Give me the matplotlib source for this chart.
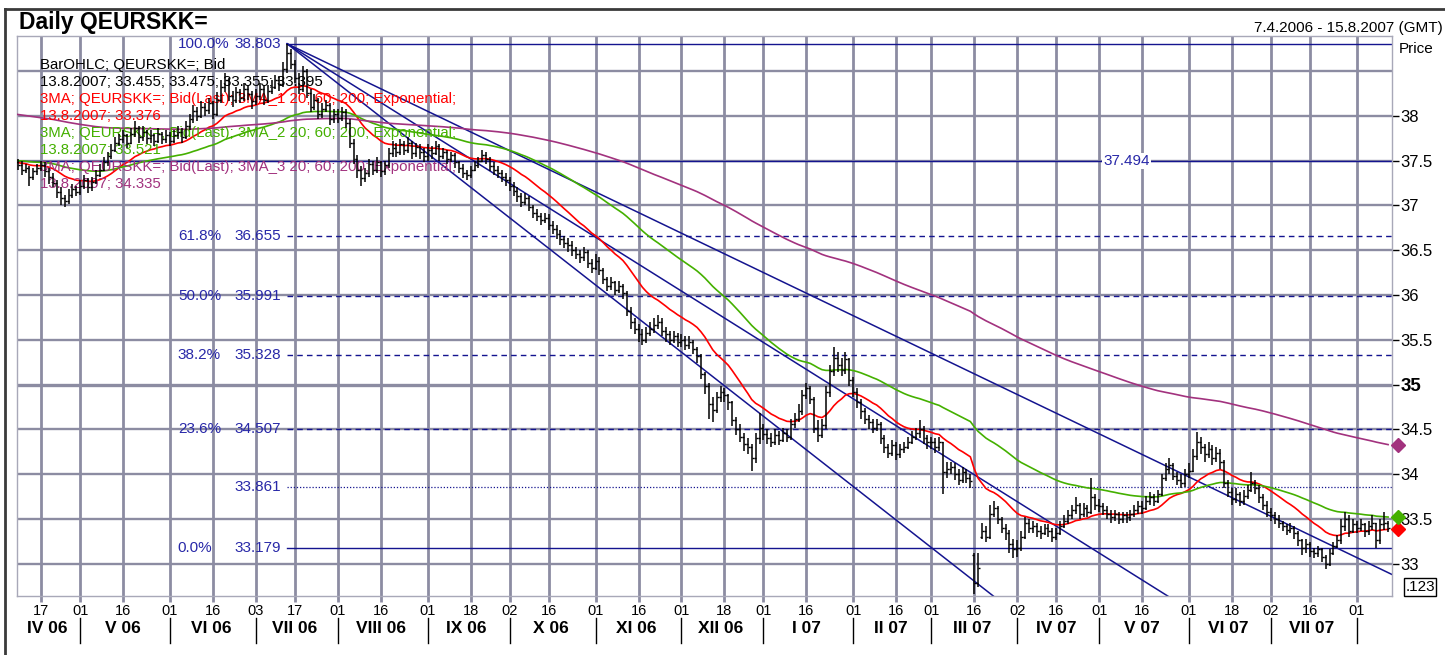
import matplotlib
matplotlib.use('Agg')
import matplotlib.pyplot as plt
import matplotlib.transforms as mtransforms
from matplotlib.lines import Line2D
import numpy as np
import pandas as pd

plt.rcParams['font.family'] = ['Liberation Sans', 'DejaVu Sans']

# ---- data: daily bid bars 7.4.2006 - 13.8.2007 (one row per month) ----
dates = pd.bdate_range('2006-04-07', '2007-08-13')

close = [
    37.45, 37.40, 37.42, 37.32, 37.38, 37.42, 37.45, 37.38, 37.32, 37.25, 37.15, 37.08, 37.05, 37.12, 37.18, 37.15,
    37.22, 37.28, 37.20, 37.26, 37.34, 37.40, 37.48, 37.55, 37.62, 37.70, 37.74, 37.78, 37.70, 37.80, 37.86, 37.76, 37.82, 37.75, 37.78, 37.72, 37.80, 37.74, 37.78,
    37.72, 37.78, 37.82, 37.76, 37.88, 37.96, 38.05, 38.00, 38.10, 38.06, 38.14, 38.02, 38.18, 38.32, 38.40, 38.22, 38.18, 38.26, 38.20, 38.30, 38.24, 38.16,
    38.22, 38.30, 38.18, 38.28, 38.32, 38.40, 38.35, 38.52, 38.70, 38.58, 38.42, 38.30, 38.50, 38.25, 38.10, 38.18, 38.02, 38.08, 38.12, 37.96, 38.02,
    37.98, 38.04, 37.92, 37.70, 37.52, 37.40, 37.30, 37.36, 37.46, 37.40, 37.48, 37.38, 37.45, 37.58, 37.64, 37.60, 37.68, 37.62, 37.70, 37.58, 37.65, 37.60, 37.55,
    37.62, 37.58, 37.66, 37.55, 37.60, 37.52, 37.56, 37.48, 37.42, 37.36, 37.34, 37.40, 37.45, 37.50, 37.56, 37.52, 37.44, 37.40, 37.36, 37.32, 37.28,
    37.22, 37.16, 37.10, 37.04, 37.08, 36.98, 36.92, 36.88, 36.84, 36.86, 36.78, 36.74, 36.68, 36.62, 36.58, 36.56, 36.50, 36.46, 36.42, 36.48, 36.36, 36.30,
    36.38, 36.28, 36.18, 36.10, 36.14, 36.06, 36.10, 36.02, 35.82, 35.70, 35.62, 35.56, 35.50, 35.58, 35.62, 35.66, 35.70, 35.60, 35.56, 35.50, 35.54, 35.48,
    35.50, 35.44, 35.48, 35.40, 35.32, 35.12, 34.98, 34.78, 34.72, 34.86, 34.92, 34.88, 34.80, 34.60, 34.50, 34.42, 34.34, 34.30, 34.18, 34.40, 34.52,
    34.45, 34.40, 34.36, 34.44, 34.38, 34.46, 34.42, 34.56, 34.62, 34.70, 34.88, 34.96, 34.84, 34.52, 34.44, 34.55, 34.92, 35.15, 35.30, 35.22, 35.16, 35.28, 35.05,
    34.92, 34.80, 34.70, 34.62, 34.58, 34.52, 34.56, 34.40, 34.30, 34.24, 34.32, 34.22, 34.28, 34.30, 34.36, 34.42, 34.46, 34.50, 34.40, 34.36,
    34.36, 34.30, 34.36, 34.02, 34.06, 34.08, 34.00, 33.94, 34.02, 33.96, 33.92, 32.78, 32.95, 33.36, 33.30, 33.56, 33.62, 33.50, 33.40, 33.34, 33.22, 33.16,
    33.18, 33.30, 33.45, 33.40, 33.42, 33.36, 33.34, 33.40, 33.36, 33.30, 33.34, 33.42, 33.48, 33.54, 33.60, 33.66, 33.56, 33.62, 33.58, 33.74, 33.66,
    33.64, 33.60, 33.56, 33.52, 33.56, 33.50, 33.54, 33.52, 33.56, 33.60, 33.64, 33.62, 33.70, 33.74, 33.70, 33.78, 33.96, 34.06, 34.10, 33.98, 33.94, 33.90, 34.00,
    34.04, 34.20, 34.36, 34.30, 34.22, 34.28, 34.18, 34.24, 34.14, 33.90, 33.80, 33.72, 33.78, 33.70, 33.76, 33.82, 33.90, 33.84, 33.74, 33.66, 33.58,
    33.54, 33.50, 33.46, 33.42, 33.38, 33.40, 33.34, 33.26, 33.18, 33.22, 33.14, 33.12, 33.16, 33.08, 33.00, 33.12, 33.20, 33.26, 33.42, 33.50, 33.36, 33.44,
    33.40, 33.44, 33.36, 33.42, 33.46, 33.26, 33.44, 33.455, 33.395,
]

high = [
    37.52, 37.50, 37.46, 37.44, 37.42, 37.46, 37.50, 37.48, 37.42, 37.36, 37.28, 37.20, 37.12, 37.18, 37.24, 37.22,
    37.28, 37.34, 37.30, 37.32, 37.40, 37.46, 37.54, 37.60, 37.68, 37.76, 37.80, 37.84, 37.80, 37.86, 37.94, 37.88, 37.88, 37.84, 37.84, 37.80, 37.86, 37.82, 37.84,
    37.82, 37.84, 37.88, 37.86, 37.94, 38.02, 38.12, 38.10, 38.16, 38.14, 38.20, 38.16, 38.26, 38.40, 38.48, 38.42, 38.28, 38.32, 38.30, 38.36, 38.34, 38.28,
    38.30, 38.36, 38.34, 38.34, 38.40, 38.46, 38.44, 38.60, 38.803, 38.74, 38.62, 38.48, 38.56, 38.52, 38.30, 38.24, 38.20, 38.14, 38.18, 38.14, 38.08,
    38.08, 38.10, 38.08, 37.96, 37.74, 37.56, 37.44, 37.42, 37.52, 37.50, 37.54, 37.50, 37.50, 37.64, 37.72, 37.70, 37.74, 37.72, 37.76, 37.72, 37.70, 37.68, 37.64,
    37.68, 37.66, 37.72, 37.68, 37.64, 37.62, 37.60, 37.58, 37.50, 37.46, 37.40, 37.44, 37.50, 37.54, 37.62, 37.60, 37.54, 37.48, 37.44, 37.40, 37.36,
    37.32, 37.26, 37.20, 37.14, 37.14, 37.10, 37.00, 36.96, 36.92, 36.92, 36.90, 36.82, 36.78, 36.72, 36.66, 36.64, 36.60, 36.54, 36.50, 36.54, 36.50, 36.40,
    36.46, 36.42, 36.30, 36.20, 36.20, 36.16, 36.16, 36.12, 36.04, 35.86, 35.74, 35.68, 35.62, 35.64, 35.70, 35.74, 35.78, 35.74, 35.64, 35.60, 35.60, 35.58,
    35.56, 35.54, 35.54, 35.50, 35.42, 35.34, 35.14, 35.02, 34.86, 34.92, 34.98, 34.96, 34.90, 34.82, 34.64, 34.56, 34.46, 34.40, 34.34, 34.46, 34.68,
    34.56, 34.50, 34.46, 34.50, 34.48, 34.52, 34.50, 34.62, 34.68, 34.78, 34.94, 35.02, 34.98, 34.86, 34.60, 34.62, 34.98, 35.22, 35.42, 35.36, 35.30, 35.36, 35.30,
    35.08, 34.96, 34.84, 34.74, 34.66, 34.62, 34.62, 34.58, 34.44, 34.34, 34.38, 34.36, 34.34, 34.36, 34.42, 34.48, 34.52, 34.60, 34.54, 34.44,
    34.42, 34.40, 34.42, 34.36, 34.14, 34.14, 34.12, 34.06, 34.08, 34.06, 34.00, 33.12, 33.12, 33.46, 33.42, 33.66, 33.70, 33.64, 33.52, 33.44, 33.38, 33.28,
    33.26, 33.36, 33.52, 33.50, 33.48, 33.46, 33.42, 33.44, 33.44, 33.40, 33.40, 33.48, 33.54, 33.60, 33.66, 33.74, 33.68, 33.68, 33.66, 33.96, 33.78,
    33.72, 33.68, 33.64, 33.60, 33.60, 33.58, 33.58, 33.58, 33.60, 33.66, 33.70, 33.70, 33.76, 33.80, 33.78, 33.82, 34.00, 34.12, 34.18, 34.12, 34.02, 34.00, 34.06,
    34.12, 34.28, 34.47, 34.42, 34.34, 34.36, 34.32, 34.30, 34.28, 34.16, 33.94, 33.84, 33.84, 33.80, 33.82, 33.88, 34.02, 33.94, 33.88, 33.78, 33.70,
    33.62, 33.58, 33.54, 33.48, 33.44, 33.46, 33.42, 33.36, 33.28, 33.28, 33.24, 33.18, 33.20, 33.18, 33.10, 33.16, 33.24, 33.32, 33.50, 33.58, 33.54, 33.50,
    33.48, 33.50, 33.46, 33.48, 33.54, 33.46, 33.50, 33.58, 33.475,
]

low = [
    37.40, 37.34, 37.36, 37.22, 37.28, 37.34, 37.38, 37.32, 37.24, 37.20, 37.08, 37.00, 36.98, 37.02, 37.08, 37.10,
    37.12, 37.18, 37.14, 37.16, 37.24, 37.32, 37.38, 37.44, 37.52, 37.60, 37.66, 37.70, 37.64, 37.68, 37.76, 37.70, 37.72, 37.68, 37.70, 37.66, 37.70, 37.68, 37.70,
    37.66, 37.70, 37.74, 37.70, 37.74, 37.84, 37.92, 37.94, 37.98, 38.00, 38.02, 37.96, 38.00, 38.14, 38.26, 38.16, 38.10, 38.14, 38.14, 38.16, 38.18, 38.08,
    38.12, 38.18, 38.12, 38.14, 38.24, 38.30, 38.28, 38.32, 38.48, 38.52, 38.36, 38.24, 38.26, 38.20, 38.04, 38.06, 37.96, 37.98, 38.04, 37.90, 37.92,
    37.92, 37.94, 37.86, 37.64, 37.46, 37.30, 37.22, 37.26, 37.32, 37.34, 37.36, 37.32, 37.34, 37.42, 37.54, 37.54, 37.56, 37.56, 37.58, 37.52, 37.54, 37.52, 37.48,
    37.50, 37.52, 37.56, 37.50, 37.52, 37.46, 37.48, 37.42, 37.36, 37.30, 37.28, 37.30, 37.38, 37.42, 37.48, 37.46, 37.38, 37.34, 37.30, 37.26, 37.22,
    37.16, 37.10, 37.04, 36.98, 37.00, 36.94, 36.86, 36.82, 36.78, 36.80, 36.72, 36.68, 36.62, 36.56, 36.52, 36.48, 36.44, 36.40, 36.36, 36.38, 36.30, 36.24,
    36.28, 36.22, 36.12, 36.04, 36.06, 36.00, 36.02, 35.96, 35.76, 35.62, 35.56, 35.48, 35.44, 35.46, 35.54, 35.58, 35.62, 35.54, 35.48, 35.44, 35.46, 35.42,
    35.42, 35.38, 35.40, 35.34, 35.24, 35.06, 34.90, 34.62, 34.58, 34.68, 34.80, 34.80, 34.72, 34.54, 34.44, 34.36, 34.26, 34.22, 34.04, 34.12, 34.34,
    34.38, 34.34, 34.30, 34.32, 34.32, 34.36, 34.36, 34.38, 34.52, 34.58, 34.66, 34.84, 34.78, 34.46, 34.36, 34.40, 34.50, 34.86, 35.10, 35.14, 35.10, 35.12, 34.98,
    34.86, 34.74, 34.62, 34.56, 34.50, 34.46, 34.48, 34.34, 34.24, 34.18, 34.20, 34.16, 34.18, 34.24, 34.28, 34.34, 34.38, 34.40, 34.34, 34.28,
    34.28, 34.24, 34.26, 33.78, 33.96, 34.00, 33.94, 33.88, 33.90, 33.90, 33.84, 32.66, 32.74, 33.28, 33.24, 33.28, 33.52, 33.44, 33.34, 33.26, 33.12, 33.06,
    33.08, 33.14, 33.28, 33.34, 33.34, 33.30, 33.28, 33.32, 33.30, 33.24, 33.26, 33.32, 33.40, 33.44, 33.50, 33.56, 33.50, 33.52, 33.52, 33.56, 33.60,
    33.58, 33.54, 33.50, 33.46, 33.48, 33.44, 33.46, 33.46, 33.48, 33.52, 33.56, 33.56, 33.60, 33.66, 33.64, 33.68, 33.76, 33.92, 34.00, 33.94, 33.88, 33.84, 33.86,
    33.96, 34.02, 34.16, 34.22, 34.14, 34.18, 34.10, 34.14, 34.06, 33.84, 33.74, 33.66, 33.68, 33.64, 33.66, 33.72, 33.80, 33.78, 33.68, 33.60, 33.52,
    33.48, 33.44, 33.40, 33.36, 33.32, 33.34, 33.28, 33.20, 33.10, 33.12, 33.08, 33.06, 33.08, 33.02, 32.94, 32.98, 33.10, 33.18, 33.22, 33.36, 33.30, 33.34,
    33.34, 33.36, 33.30, 33.32, 33.38, 33.18, 33.22, 33.38, 33.355,
]

first_open = 37.48
gap_open = {245: 33.10, 247: 33.30}   # bars that opened away from the prior close

# EMA levels carried in from before the window (20 / 60 / 200)
ema_spans = [20, 60, 200]
ema_start = [37.48, 37.50, 38.02]
ema_colors = ['#ff0000', '#44b000', '#a2327e']

# Fibonacci retracement from the July 2006 high
fib_anchor = 69
fib_pct = ['100.0%', '61.8%', '50.0%', '38.2%', '23.6%', '0.0%']
fib_val = [38.803, 36.655, 35.991, 35.328, 34.507, 33.179]
fib_style = ['-', '--', '--', '--', '--', '-']
extra_level = 33.861
flat_level = 37.494
trend_end = [32.88, 31.07, 29.16]   # fan lines, price reached at the right edge

legend_lines = [
    ('BarOHLC; QEURSKK=; Bid', 'black'),
    ('13.8.2007; 33.455; 33.475; 33.355; 33.395', 'black'),
    ('3MA; QEURSKK=; Bid(Last); 3MA_1 20; 60; 200; Exponential;', ema_colors[0]),
    ('13.8.2007; 33.376', ema_colors[0]),
    ('3MA; QEURSKK=; Bid(Last); 3MA_2 20; 60; 200; Exponential;', ema_colors[1]),
    ('13.8.2007; 33.521', ema_colors[1]),
    ('3MA; QEURSKK=; Bid(Last); 3MA_3 20; 60; 200; Exponential;', ema_colors[2]),
    ('13.8.2007; 34.335', ema_colors[2]),
]
roman = ['I', 'II', 'III', 'IV', 'V', 'VI', 'VII', 'VIII', 'IX', 'X', 'XI', 'XII']

assert len(close) == len(dates) == len(high) == len(low), (len(dates), len(close), len(high), len(low))

W, H = 1445, 655
grid_c = '#8c8ca2'
navy = '#14148f'
fib_txt = '#2828a8'

fig = plt.figure(figsize=(W / 100, H / 100), dpi=100)
ax = fig.add_axes([17 / W, 1 - 596 / H, 1375 / W, 560 / H])

x = np.arange(len(close))
x_right = 352
ax.set_xlim(-0.2, x_right)
ax.set_ylim(32.64, 38.89)

# grid
tick_idx = []
for m in pd.date_range('2006-04-01', '2007-08-01', freq='MS'):
    for d in (1, 16):
        t = m + pd.Timedelta(days=d - 1)
        k = dates.searchsorted(t)
        if t >= dates[0] and k < len(dates):
            tick_idx.append(k)
for k in tick_idx:
    ax.axvline(k, color=grid_c, lw=2.0, zorder=1)
for lvl in np.arange(33.0, 38.51, 0.5):
    ax.axhline(lvl, color=grid_c, lw=2.4 if lvl == 35 else 1.7, zorder=1)

# moving averages
c = np.array(close)
for span, seed, col in zip(ema_spans, ema_start, ema_colors):
    e = pd.Series([seed] + close).ewm(span=span, adjust=False).mean().to_numpy()[1:]
    ax.plot(x, e, color=col, lw=1.2, zorder=3)
    ax.plot([x_right + 1.5], [e[-1]], marker='D', ms=7.5, color=col, clip_on=False, zorder=6)

# fibonacci levels and lines
for pct, val, ls in zip(fib_pct, fib_val, fib_style):
    ax.plot([fib_anchor, x_right], [val, val], color=navy, lw=1.0, ls=ls,
            dashes=(4, 3) if ls == '--' else (None, None), zorder=2)
    ax.text(41, val, pct, color=fib_txt, fontsize=11, va='center', ha='left', zorder=4)
    ax.text(55.5, val, '%.3f' % val, color=fib_txt, fontsize=11, va='center', ha='left', zorder=4)
ax.plot([fib_anchor, x_right], [extra_level, extra_level], color=navy, lw=0.9, ls=(0, (1, 1.5)), zorder=2)
ax.text(55.5, extra_level, '%.3f' % extra_level, color=fib_txt, fontsize=11, va='center', ha='left', zorder=4)
ax.axhline(flat_level, color=navy, lw=1.0, zorder=2)
ax.text(284, flat_level, '%.3f' % flat_level, color=fib_txt, fontsize=11, va='center', ha='center',
        zorder=4, bbox=dict(facecolor='white', edgecolor='none', pad=1))
for end in trend_end:
    ax.plot([fib_anchor, x_right], [fib_val[0], end], color=navy, lw=1.1, zorder=2)

# OHLC bars
opens = np.r_[first_open, c[:-1]]
for k, v in gap_open.items():
    opens[k] = v
ax.vlines(x, low, high, color='black', lw=1.1, zorder=5)
ax.hlines(opens, x - 0.5, x, color='black', lw=1.0, zorder=5)
ax.hlines(c, x, x + 0.5, color='black', lw=1.0, zorder=5)

# legend text block
for i, (txt, col) in enumerate(legend_lines):
    ax.text(0.0167, 0.948 - i * 0.0302, txt, transform=ax.transAxes, color=col,
            fontsize=10.8, va='center', ha='left', zorder=4)

# axes styling
for s in ax.spines.values():
    s.set_color('#a8a8b8')
    s.set_linewidth(1.0)
ax.yaxis.tick_right()
yt = np.arange(33.0, 38.01, 0.5)
ax.set_yticks(yt)
ax.set_yticklabels(['%g' % v for v in yt], fontsize=12)
for lab in ax.get_yticklabels():
    if lab.get_text() == '35':
        lab.set_fontweight('bold')
        lab.set_fontsize(13.5)
ax.tick_params(axis='y', length=5, width=1, color='black', pad=1)
ax.set_xticks(tick_idx)
ax.set_xticklabels([dates[k].strftime('%d') for k in tick_idx], fontsize=10.5)
ax.tick_params(axis='x', length=4, width=2.0, color=grid_c, pad=2)

# month labels and separators
blend = mtransforms.blended_transform_factory(ax.transData, ax.transAxes)
months = pd.date_range('2006-04-01', '2007-08-01', freq='MS')
for m, nxt in zip(months[:-1], months[1:]):
    s = dates.searchsorted(max(m, dates[0]))
    e = dates.searchsorted(nxt) - 1
    ax.text((s + e) / 2, -0.058, '%s %s' % (roman[m.month - 1], m.strftime('%y')),
            transform=blend, fontsize=12.5, fontweight='bold', ha='center', va='center')
    k = dates.searchsorted(nxt)
    ax.plot([k, k], [-0.040, -0.084], transform=blend, color='black', lw=1.0, clip_on=False)

# header texts and outer frame
fig.text(19 / W, 1 - 22 / H, 'Daily QEURSKK=', fontsize=16.5, fontweight='bold', va='center')
fig.text(1443 / W, 1 - 28 / H, '7.4.2006 - 15.8.2007 (GMT)', fontsize=11, ha='right', va='center')
fig.text(1399 / W, 1 - 49 / H, 'Price', fontsize=11, ha='left', va='center')
fig.text(1420 / W, 1 - 587 / H, '.123', fontsize=11, ha='center', va='center',
         bbox=dict(facecolor='white', edgecolor='black', pad=1.2, lw=1))
fig.add_artist(Line2D([5 / W, 5 / W], [0, 1 - 9 / H], color='#3a3a3a', lw=2))
fig.add_artist(Line2D([5 / W, 1], [1 - 9 / H, 1 - 9 / H], color='#3a3a3a', lw=2))

fig.savefig('out.png', dpi=100)
